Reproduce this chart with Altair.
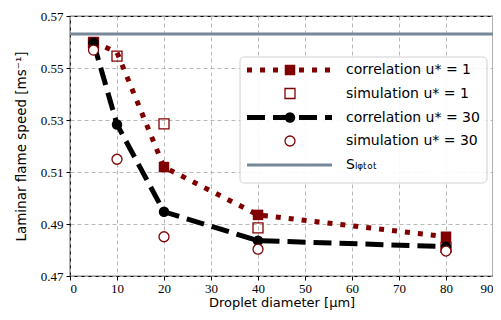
import altair as alt
import pandas as pd

# data
diam = [5, 10, 20, 40, 80]
corr_u1 = [0.5600, 0.5560, 0.5119, 0.4935, 0.4851]
corr_u1_marked = [True, False, True, True, True]
sim_u1 = [0.5597, 0.5546, 0.5285, 0.4885, 0.4810]
corr_u30 = [0.5597, 0.5283, 0.4947, 0.4836, 0.4813]
sim_u30 = [0.5569, 0.5149, 0.4851, 0.4803, 0.4796]
sl_tot = 0.5631

labels = ["correlation u* = 1", "simulation u* = 1", "correlation u* = 30",
          "simulation u* = 30", "Sₗᵩₜₒₜ"]

RED = "#800000"
GRAY = "#778899"
W, H = 423, 260
XMAX, YMIN, YMAX = 90, 0.47, 0.57

def px_x(p):
    return p / W * XMAX

def px_y(p):
    return YMAX - p / H * (YMAX - YMIN)

xs = alt.Scale(domain=[0, XMAX], nice=False)
ys = alt.Scale(domain=[YMIN, YMAX], nice=False)

df = pd.DataFrame({"d": diam, "c1": corr_u1, "m1": corr_u1_marked, "s1": sim_u1,
                   "c30": corr_u30, "s30": sim_u30})

xax = alt.Axis(values=list(range(0, 91, 10)), title="Droplet diameter [μm]", format="d")
yax = alt.Axis(values=[0.47, 0.49, 0.51, 0.53, 0.55, 0.57], format=".2f",
               title="Laminar flame speed [ms⁻¹]")

base = alt.Chart(df)
X = alt.X("d:Q", scale=xs, axis=xax)

line1 = base.mark_line(color=RED, strokeWidth=5, strokeDash=[5, 8]).encode(
    x=X, y=alt.Y("c1:Q", scale=ys, axis=yax))
pt1 = base.transform_filter("datum.m1").mark_square(color=RED, size=110, opacity=1).encode(
    x="d:Q", y="c1:Q")
sim1 = base.mark_square(filled=False, stroke=RED, strokeWidth=1.3, size=100, opacity=1).encode(
    x="d:Q", y="s1:Q")
line30 = base.mark_line(color="black", strokeWidth=5, strokeDash=[18, 8]).encode(x="d:Q", y="c30:Q")
pt30 = base.mark_circle(color="black", size=110, opacity=1).encode(x="d:Q", y="c30:Q")
sim30 = base.mark_point(shape="circle", fill="white", filled=True, stroke=RED, strokeWidth=1.3,
                        size=100, opacity=1).encode(x="d:Q", y="s30:Q")

sl = alt.Chart(pd.DataFrame({"y": [sl_tot]})).mark_rule(color=GRAY, strokeWidth=3).encode(
    y="y:Q", x=alt.value(0), x2=alt.value(W))

# legend (positions computed in plot pixels, converted to data units)
box = pd.DataFrame({"x": [px_x(170)], "x2": [px_x(417)], "y": [px_y(41)], "y2": [px_y(167)]})
leg_box = alt.Chart(box).mark_rect(fill="white", stroke="#cccccc", strokeWidth=1,
                                   cornerRadius=4, opacity=0.9).encode(
    x="x:Q", x2="x2:Q", y="y:Q", y2="y2:Q")

row_y = [54, 77.5, 101.5, 125, 149]
lx1, lx2, lmx, ltx = px_x(177), px_x(262), px_x(220), px_x(276)
rows = pd.DataFrame({"y": [px_y(r) for r in row_y], "label": labels})

def seg(i):
    return pd.DataFrame({"x": [lx1, lx2], "y": [rows.y[i]] * 2})

lg1 = alt.Chart(seg(0)).mark_line(color=RED, strokeWidth=5, strokeDash=[5, 8]).encode(x="x:Q", y="y:Q")
lg3 = alt.Chart(seg(2)).mark_line(color="black", strokeWidth=5, strokeDash=[18, 8]).encode(x="x:Q", y="y:Q")
lg5 = alt.Chart(seg(4)).mark_line(color=GRAY, strokeWidth=3).encode(x="x:Q", y="y:Q")
mk = pd.DataFrame({"x": [lmx], "y0": [rows.y[0]], "y1": [rows.y[1]], "y2": [rows.y[2]], "y3": [rows.y[3]]})
lm1 = alt.Chart(mk).mark_square(color=RED, size=110, opacity=1).encode(x="x:Q", y="y0:Q")
lm2 = alt.Chart(mk).mark_square(filled=False, stroke=RED, strokeWidth=1.3, size=100, opacity=1).encode(x="x:Q", y="y1:Q")
lm3 = alt.Chart(mk).mark_circle(color="black", size=110, opacity=1).encode(x="x:Q", y="y2:Q")
lm4 = alt.Chart(mk).mark_point(shape="circle", fill="white", filled=True, stroke=RED, strokeWidth=1.3,
                               size=100, opacity=1).encode(x="x:Q", y="y3:Q")
rows["tx"] = ltx
ltext = alt.Chart(rows).mark_text(align="left", baseline="middle", font="DejaVu Sans",
                                  fontSize=14, color="black").encode(
    x="tx:Q", y="y:Q", text="label:N")

chart = alt.layer(line1, pt1, sim1, line30, pt30, sim30, sl,
                  leg_box, lg1, lg3, lg5, lm1, lm2, lm3, lm4, ltext).properties(
    width=W, height=H,
    autosize=alt.AutoSizeParams(type="none"),
    padding={"left": 62, "top": 8, "right": 0, "bottom": 36},
).configure_view(stroke="black", strokeWidth=1.2).configure_axis(
    grid=True, gridColor="#b0b0b0", gridDash=[4, 3], gridWidth=0.9,
    domain=False, tickColor="black", tickSize=4, tickWidth=1,
    labelFont="Liberation Serif", labelFontSize=13, labelColor="black",
    titleFont="DejaVu Sans", titleFontSize=13.5, titleFontWeight="normal", titleColor="black",
).configure_axisX(labelPadding=2, titlePadding=1, titleFontSize=13).configure_axisY(
    labelPadding=3, titlePadding=12)

chart.save("out.html", embed_options={"renderer": "svg", "actions": False})
